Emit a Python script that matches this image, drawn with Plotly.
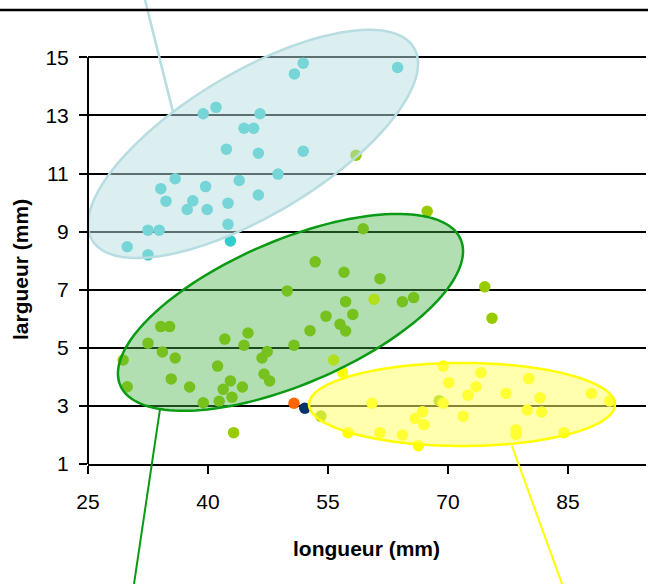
import numpy as np
import plotly.graph_objects as go

# ---------------- data ----------------
cyan_x = [51.9, 50.8, 63.7, 39.4, 41.0, 46.5, 44.5, 45.7, 42.3, 46.3, 51.9, 48.75, 35.9, 34.1,
          39.7, 43.9, 34.75, 38.1, 37.4, 39.9, 42.5, 46.3, 42.5, 32.5, 33.9, 29.9, 32.5, 42.8]
cyan_y = [14.8, 14.43, 14.65, 13.06, 13.28, 13.06, 12.56, 12.56, 11.84, 11.70, 11.77, 10.98, 10.82, 10.48,
          10.55, 10.76, 10.05, 10.06, 9.76, 9.76, 9.98, 10.26, 9.25, 9.05, 9.05, 8.48, 8.20, 8.68]

green_x = [67.4, 59.4, 53.4, 57.0, 61.5, 49.9, 57.2, 64.3, 65.7, 54.75, 58.1, 56.5, 57.2, 52.75,
           34.1, 35.2, 45.0, 42.1, 44.5, 50.75, 32.5, 34.3, 35.9, 47.4, 46.75, 29.4, 41.2, 35.4,
           47.0, 47.7, 29.9, 37.7, 42.8, 41.9, 44.3, 43.0, 39.4, 41.4, 43.2, 54.1, 68.9, 58.5, 74.6, 75.5]
green_y = [9.70, 9.10, 7.96, 7.60, 7.38, 6.96, 6.59, 6.59, 6.73, 6.09, 6.15, 5.81, 5.58, 5.59,
           5.73, 5.73, 5.51, 5.30, 5.09, 5.09, 5.16, 4.86, 4.65, 4.87, 4.65, 4.58, 4.37, 3.93,
           4.10, 3.86, 3.66, 3.65, 3.86, 3.57, 3.65, 3.30, 3.11, 3.16, 2.08, 2.65, 3.18, 11.63, 7.10, 6.02]

yellow_x = [69.4, 74.1, 70.1, 73.5, 72.5, 77.25, 80.1, 81.5, 87.9, 90.2, 60.5, 69.4, 66.8, 65.9,
            67.0, 71.9, 79.9, 81.7, 57.5, 61.5, 64.3, 66.3, 78.5, 78.5, 84.5, 56.8, 60.75, 55.7]
yellow_y = [4.37, 4.14, 3.80, 3.66, 3.37, 3.43, 3.94, 3.28, 3.43, 3.17, 3.09, 3.09, 2.80, 2.57,
            2.35, 2.64, 2.86, 2.79, 2.08, 2.08, 2.00, 1.63, 2.18, 2.02, 2.08, 4.16, 6.67, 4.58]

orange_x = [50.75]
orange_y = [3.09]
navy_x = [52.1]
navy_y = [2.92]

x_ticks = [25, 40, 55, 70, 85]
y_ticks = [1, 3, 5, 7, 9, 11, 13, 15]

x_title = "longueur (mm)"
y_title = "largueur (mm)"

# ---------------- layout geometry ----------------
W, H = 648, 584
ML, MR, MT, MB = 88, 2, 10, 120
XR = [25, 94.75]
YR = [1, 16.63]
PW = W - ML - MR
PH = H - MT - MB
XPX = PW / (XR[1] - XR[0])
YPX = PH / (YR[1] - YR[0])

FONT = "Liberation Sans, Arial, sans-serif"


def ellipse_path(cx, cy, a_px, b_px, ang_deg, n=160):
    t = np.linspace(0, 2 * np.pi, n, endpoint=False)
    th = np.radians(ang_deg)
    dx = a_px * np.cos(t) * np.cos(th) - b_px * np.sin(t) * np.sin(th)
    dy = a_px * np.cos(t) * np.sin(th) + b_px * np.sin(t) * np.cos(th)
    xs = cx + dx / XPX
    ys = cy + dy / YPX
    pts = [f"{x:.4f},{y:.4f}" for x, y in zip(xs, ys)]
    return "M " + " L ".join(pts) + " Z"


def to_paper(x, y):
    return (x - XR[0]) / (XR[1] - XR[0]), (y - YR[0]) / (YR[1] - YR[0])


fig = go.Figure()

def add_pts(xs, ys, color):
    fig.add_trace(go.Scatter(x=xs, y=ys, mode="markers",
                             marker=dict(color=color, size=11.5, line=dict(width=0)),
                             hoverinfo="skip", showlegend=False))

add_pts(cyan_x, cyan_y, "#33CCCC")
add_pts(green_x, green_y, "#99CC00")
add_pts(yellow_x, yellow_y, "#FFFF00")
add_pts(orange_x, orange_y, "#FF6600")
add_pts(navy_x, navy_y, "#003366")

shapes = []
# ellipses (drawn above the points, semi-transparent)
ellipses = [
    dict(c=(45.625, 12.02), a=187.5, b=71.3, ang=30.9, fill="rgba(183,222,226,0.5)", line="#B7DDE1"),
    dict(c=(50.31, 6.22), a=185.2, b=71.9, ang=23.2, fill="rgba(70,178,72,0.42)", line="#0A9A14"),
    dict(c=(71.75, 3.05), a=153, b=41.5, ang=0.0, fill="rgba(255,255,100,0.52)", line="#FFFF00"),
]
for e in ellipses:
    shapes.append(dict(type="path", xref="x", yref="y",
                       path=ellipse_path(e["c"][0], e["c"][1], e["a"], e["b"], e["ang"]),
                       fillcolor=e["fill"], line=dict(color=e["line"], width=2.5),
                       layer="above"))

# callout lines (data coordinates converted to paper so they can leave the plot area)
callouts = [
    ((32.125, 16.98), (35.66, 13.08), "#B7DDE1", 2.5),
    ((34.0, 2.89), (30.75, -3.13), "#0A9A14", 2),
    ((78.0, 1.62), (84.25, -3.13), "#FFFF00", 2),
]
for (p0, p1, col, wd) in callouts:
    x0, y0 = to_paper(*p0)
    x1, y1 = to_paper(*p1)
    shapes.append(dict(type="line", xref="paper", yref="paper", x0=x0, y0=y0, x1=x1, y1=y1,
                       line=dict(color=col, width=wd), layer="above"))

# y axis line (1 to 15 only)
shapes.append(dict(type="line", xref="paper", yref="y", x0=0, x1=0, y0=1, y1=15,
                   line=dict(color="black", width=2), layer="above"))
# top border line across the whole figure
shapes.append(dict(type="line", xref="paper", yref="paper", x0=-ML / PW, x1=1 + MR / PW, y0=1, y1=1,
                   line=dict(color="black", width=2.5), layer="above"))

fig.update_layout(
    width=W, height=H,
    margin=dict(l=ML, r=MR, t=MT, b=MB, autoexpand=False),
    paper_bgcolor="white", plot_bgcolor="white",
    shapes=shapes,
    showlegend=False,
    annotations=[
        dict(text=f"<b>{x_title}</b>", xref="paper", yref="paper",
             x=(366 - ML) / PW, y=-(548 - (H - MB)) / PH, xanchor="center", yanchor="middle",
             showarrow=False, font=dict(family=FONT, size=21, color="black")),
        dict(text=f"<b>{y_title}</b>", xref="paper", yref="paper", textangle=-90,
             x=-(ML - 20) / PW, y=((H - MB) - 270) / PH, xanchor="center", yanchor="middle",
             showarrow=False, font=dict(family=FONT, size=21, color="black")),
    ],
)

fig.update_xaxes(range=XR, tickvals=x_ticks, ticktext=[str(v) for v in x_ticks], automargin=False,
                 showgrid=False, zeroline=False, showline=True, linecolor="black", linewidth=2,
                 ticks="outside", ticklen=8, tickwidth=2, tickcolor="black",
                 tickfont=dict(family=FONT, size=21, color="black"), ticklabelstandoff=10)
fig.update_yaxes(range=YR, tickvals=y_ticks, ticktext=[str(v) for v in y_ticks], automargin=False,
                 showgrid=True, gridcolor="black", gridwidth=2, zeroline=False, showline=False,
                 ticks="outside", ticklen=8, tickwidth=2, tickcolor="black",
                 tickfont=dict(family=FONT, size=21, color="black"), ticklabelstandoff=6)

fig.write_html("out.html", config={"displayModeBar": False},
               post_script="document.body.style.margin='0';")
